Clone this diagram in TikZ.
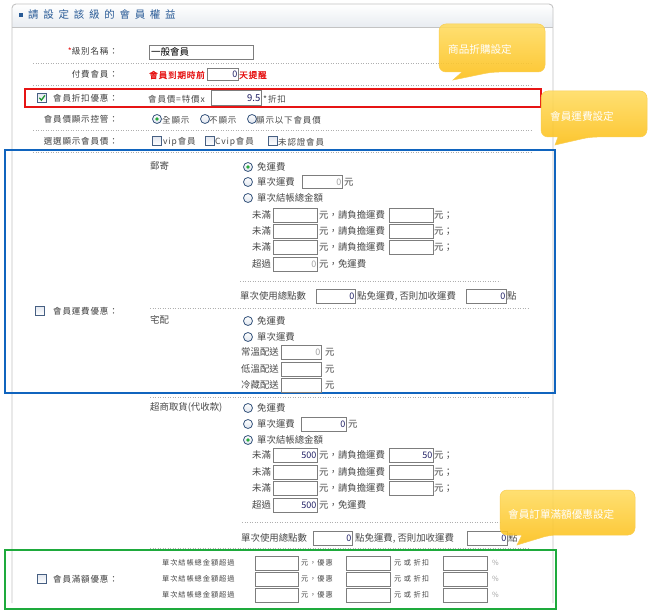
\documentclass[tikz,border=0pt]{standalone}
\usepackage{fontspec}
\setmainfont{Noto Sans CJK TC}
\newfontfamily\cjk{Noto Sans CJK TC}
\newfontfamily\cjksp[LetterSpace=10]{Noto Sans CJK TC}
\newfontfamily\cjkred[LetterSpace=8,FakeBold=1.2]{Noto Sans CJK TC}
\newfontfamily\cjkttl[LetterSpace=45]{Noto Sans CJK TC}
\newfontfamily\cjkbt[LetterSpace=13]{Noto Sans CJK TC}
\definecolor{txt}{RGB}{72,72,72}
\definecolor{lbl}{RGB}{60,60,60}
\definecolor{valc}{RGB}{30,30,100}
\definecolor{dis}{RGB}{160,160,160}
\definecolor{inpc}{RGB}{125,125,125}
\definecolor{rdoc}{RGB}{55,85,125}
\definecolor{cbxc}{RGB}{70,95,130}
\definecolor{dotc}{RGB}{175,175,175}
\definecolor{panelc}{RGB}{195,195,195}
\definecolor{ttlc}{RGB}{40,90,150}
\definecolor{selgreen}{RGB}{40,170,60}
\definecolor{chkgreen}{RGB}{30,150,50}
\definecolor{redc}{RGB}{230,20,20}
\definecolor{bluebox}{RGB}{16,100,190}
\definecolor{greenbox}{RGB}{30,170,60}
\definecolor{hdrbot}{RGB}{232,236,241}
\definecolor{rdobot}{RGB}{222,228,238}
\definecolor{cbxtop}{RGB}{228,232,240}
\definecolor{calltop}{RGB}{255,220,95}
\definecolor{callbot}{RGB}{252,190,20}
\definecolor{calledge}{RGB}{250,205,80}
\tikzset{
 tx/.style={font=\cjk\fontsize{9.4}{11}\selectfont, text=txt, inner sep=0pt, anchor=west},
 lb/.style={font=\cjksp\fontsize{8.5}{10}\selectfont, text=lbl, inner sep=0pt, anchor=east},
 sp/.style={font=\cjksp\fontsize{8.5}{10}\selectfont, text=txt, inner sep=0pt, anchor=west},
 rd/.style={font=\cjkred\fontsize{8.7}{10}\selectfont, text=redc, inner sep=0pt, anchor=west},
 bt/.style={font=\cjkbt\fontsize{7.2}{9}\selectfont, text=txt, inner sep=0pt, anchor=west},
 ttl/.style={font=\cjkttl\fontsize{10.5}{12}\selectfont, text=ttlc, inner sep=0pt, anchor=west},
 val/.style={font=\cjk\fontsize{9}{10}\selectfont, text=valc, inner sep=0pt},
 inp/.style={draw=inpc, line width=0.8pt, fill=white, inner sep=0pt},
 rdo/.style={circle, draw=rdoc, line width=0.8pt, minimum size=9pt, inner sep=0pt, top color=white, bottom color=rdobot},
 cbx/.style={rectangle, draw=cbxc, line width=0.8pt, minimum size=9pt, inner sep=0pt, top color=cbxtop, bottom color=white},
 dline/.style={draw=dotc, line width=0.9pt, dash pattern=on 1.2pt off 1.3pt},
 panel/.style={draw=panelc, line width=0.9pt},
 callout/.style={top color=calltop, bottom color=callbot, fill opacity=0.88, draw=calledge, line width=0.5pt, rounded corners=7pt},
 ctx/.style={font=\cjk\fontsize{10.6}{12}\selectfont, text=white, inner sep=0pt, anchor=west},
}
\newcommand\ibx[6]{\node[inp, anchor=north west, minimum width=#4pt, minimum height=#5pt] (#1) at (#2,#3) {};\node[val, anchor=east] (#1v) at ([xshift=-1.3pt]#1.east) {#6};}
\newcommand\rdb[4]{\node[rdo] (#1) at (#2,#3) {};\ifnum#4=1 \fill[selgreen] (#1.center) circle (1.9pt);\fi}
\newcommand\cbb[4]{\node[cbx] (#1) at (#2,#3) {};\ifnum#4=1 \draw[chkgreen, line width=1.3pt] ([shift={(-2.6pt,0.2pt)}]#1.center) -- ([shift={(-0.6pt,-2.2pt)}]#1.center) -- ([shift={(2.9pt,2.6pt)}]#1.center);\fi}
\begin{document}
\begin{tikzpicture}[x=1pt,y=-1pt]
\useasboundingbox[fill=white] (0,0) rectangle (648,615);
% panel
\shade[top color=white, bottom color=hdrbot] (12,27) {[rounded corners=4pt] -- (12,4) -- (553,4)} -- (553,27) -- cycle;
\draw[panel] (12,603) -- (12,27) {[rounded corners=4pt] -- (12,4) -- (553,4)} -- (553,27) -- (553,603);
\draw[panel] (12,27) -- (553,27);
\node[fill=ttlc, minimum size=4pt, inner sep=0pt] (sq) at (21,15.5) {};
\node[ttl] (title) at (28,15) {請設定該級的會員權益};
% dotted separators
\draw[dline] (33,63) -- (532,63);
\draw[dline] (33,85) -- (532,85);
\draw[dline] (33,130) -- (532,130);
\draw[dline] (33,152) -- (532,152);
% row 1
\node[lb] (l1) at (118,51) {\textcolor{redc}{*}級別名稱：};
\node[inp, anchor=north west, minimum width=104pt, minimum height=14pt] (name) at (149,45) {};
\node[font=\cjk\fontsize{9.5}{11}\selectfont, text=black, inner sep=0pt, anchor=west] (namev) at (151,52) {一般會員};
% row 2
\node[lb] (l2) at (118,74) {付費會員：};
\node[rd] (r2a) at (149,75) {會員到期時前};
\ibx{r2b}{207}{68}{31}{12}{0}
\node[rd] (r2c) at (239,75) {天提醒};
% row 3
\draw[redc, line width=2pt] (25,89) rectangle (541,107);
\cbb{c3}{42}{98}{1}
\node[lb] (l3) at (118,98) {會員折扣優惠：};
\node[sp] (r3a) at (148,99) {會員價=特價x};
\ibx{r3b}{211}{90}{50}{15}{\fontsize{9.5}{11}\selectfont 9.5}
\node[sp] (r3c) at (263,99) {*折扣};
% row 4
\node[lb] (l4) at (118,119) {會員價顯示控管：};
\rdb{o41}{157}{119}{1}
\node[sp] (t41) at (162,120) {全顯示};
\rdb{o42}{205}{119}{0}
\node[sp] (t42) at (209,120) {不顯示};
\rdb{o43}{252}{119}{0}
\node[sp] (t43) at (256,120) {顯示以下會員價};
% row 5
\node[lb] (l5) at (118,141) {選選顯示會員價：};
\cbb{c51}{157}{141}{0}
\node[sp] (t51) at (163,142) {vip會員};
\cbb{c52}{210}{141}{0}
\node[sp] (t52) at (215,142) {Cvip會員};
\cbb{c53}{273}{141}{0}
\node[sp] (t53) at (278,142) {未認證會員};
% ===== shipping (blue box)
\draw[bluebox, line width=2pt] (5,150) rectangle (555,393);
\cbb{c6}{40}{311}{0}
\node[lb] (l6) at (118,311) {會員運費優惠：};
\node[tx] (mail) at (150,166) {郵寄};
\rdb{m1}{248}{167}{1}
\node[tx] (m1t) at (257,167) {免運費};
\rdb{m2}{248}{182}{0}
\node[tx] (m2t) at (257,182) {單次運費};
\ibx{m2b}{302}{175}{40}{13}{\textcolor{dis}{0}}
\node[tx] (m2y) at (344,182) {元};
\rdb{m3}{248}{198}{0}
\node[tx] (m3t) at (257,198) {單次結帳總金額};
\node[tx] (ma1) at (252,215) {未滿};
\ibx{mb1}{273}{208}{44}{14}{}
\node[tx] (mc1) at (319,215) {元，請負擔運費};
\ibx{md1}{389}{208}{44}{14}{}
\node[tx] (me1) at (434,215) {元；};
\node[tx] (ma2) at (252,231) {未滿};
\ibx{mb2}{273}{224}{44}{14}{}
\node[tx] (mc2) at (319,231) {元，請負擔運費};
\ibx{md2}{389}{224}{44}{14}{}
\node[tx] (me2) at (434,231) {元；};
\node[tx] (ma3) at (252,247) {未滿};
\ibx{mb3}{273}{240}{44}{14}{}
\node[tx] (mc3) at (319,247) {元，請負擔運費};
\ibx{md3}{389}{240}{44}{14}{}
\node[tx] (me3) at (434,247) {元；};
\node[tx] (ma4) at (252,264) {超過};
\ibx{mb4}{273}{257}{44}{14}{\textcolor{dis}{0}}
\node[tx] (mc4) at (319,264) {元，免運費};
\draw[dline] (240,281) -- (500,281);
\node[tx] (mp1) at (240,296) {單次使用總點數};
\ibx{mp2}{316}{289}{39}{14}{0}
\node[tx] (mp3) at (357,296) {點免運費, 否則加收運費};
\ibx{mp4}{466}{289}{40}{14}{0}
\node[tx] (mp5) at (507,296) {點};
\draw[dline] (150,308) -- (528,308);
\node[tx] (home) at (150,320) {宅配};
\rdb{h1}{248}{321}{0}
\node[tx] (h1t) at (257,321) {免運費};
\rdb{h2}{248}{337}{0}
\node[tx] (h2t) at (257,337) {單次運費};
\node[tx] (h3a) at (241,352) {常溫配送};
\ibx{h3b}{281}{345}{40}{14}{\textcolor{dis}{0}}
\node[tx] (h3c) at (325,352) {元};
\node[tx] (h4a) at (241,369) {低溫配送};
\ibx{h4b}{281}{362}{40}{14}{}
\node[tx] (h4c) at (325,369) {元};
\node[tx] (h5a) at (241,385) {冷藏配送};
\ibx{h5b}{281}{378}{40}{14}{}
\node[tx] (h5c) at (325,385) {元};
\draw[dline] (150,397) -- (528,397);
% ===== store pickup
\node[tx] (store) at (150,407) {超商取貨(代收款)};
\rdb{s1}{248}{408}{0}
\node[tx] (s1t) at (257,408) {免運費};
\rdb{s2}{248}{424}{0}
\node[tx] (s2t) at (257,424) {單次運費};
\ibx{s2b}{301}{417}{45}{14}{0}
\node[tx] (s2y) at (348,424) {元};
\rdb{s3}{248}{440}{1}
\node[tx] (s3t) at (257,440) {單次結帳總金額};
\node[tx] (sa1) at (252,455) {未滿};
\ibx{sb1}{273}{448}{44}{14}{500}
\node[tx] (sc1) at (319,455) {元，請負擔運費};
\ibx{sd1}{389}{448}{44}{14}{50}
\node[tx] (se1) at (434,455) {元；};
\node[tx] (sa2) at (252,472) {未滿};
\ibx{sb2}{273}{465}{44}{14}{}
\node[tx] (sc2) at (319,472) {元，請負擔運費};
\ibx{sd2}{389}{465}{44}{14}{}
\node[tx] (se2) at (434,472) {元；};
\node[tx] (sa3) at (252,488) {未滿};
\ibx{sb3}{273}{481}{44}{14}{}
\node[tx] (sc3) at (319,488) {元，請負擔運費};
\ibx{sd3}{389}{481}{44}{14}{}
\node[tx] (se3) at (434,488) {元；};
\node[tx] (sa4) at (252,505) {超過};
\ibx{sb4}{273}{498}{44}{14}{500}
\node[tx] (sc4) at (319,505) {元，免運費};
\draw[dline] (242,522) -- (500,522);
\node[tx] (sp1) at (241,538) {單次使用總點數};
\ibx{sp2}{313}{531}{39}{14}{0}
\node[tx] (sp3) at (355,538) {點免運費, 否則加收運費};
\ibx{sp4}{467}{531}{40}{14}{0}
\node[tx] (sp5) at (508,538) {點};
\draw[dline] (150,548) -- (528,548);
% ===== full amount (green box)
\draw[greenbox, line width=2pt] (5,550) rectangle (556,609);
\cbb{c7}{42}{579}{0}
\node[lb] (l7) at (118,579) {會員滿額優惠：};
\node[bt] (g1a) at (162,563) {單次結帳總金額超過};
\ibx{g1b}{255}{556}{43}{14}{}
\node[bt] (g1c) at (301,563) {元，優惠};
\ibx{g1d}{346}{556}{44}{14}{}
\node[bt] (g1e) at (394,563) {元 或 折扣};
\ibx{g1f}{443}{556}{44}{14}{}
\node[bt, text=dis] (g1g) at (492,563) {\%};
\node[bt] (g2a) at (162,579) {單次結帳總金額超過};
\ibx{g2b}{255}{572}{43}{14}{}
\node[bt] (g2c) at (301,579) {元，優惠};
\ibx{g2d}{346}{572}{44}{14}{}
\node[bt] (g2e) at (394,579) {元 或 折扣};
\ibx{g2f}{443}{572}{44}{14}{}
\node[bt, text=dis] (g2g) at (492,579) {\%};
\node[bt] (g3a) at (162,595) {單次結帳總金額超過};
\ibx{g3b}{255}{588}{43}{14}{}
\node[bt] (g3c) at (301,595) {元，優惠};
\ibx{g3d}{346}{588}{44}{14}{}
\node[bt] (g3e) at (394,595) {元 或 折扣};
\ibx{g3f}{443}{588}{44}{14}{}
\node[bt, text=dis] (g3g) at (492,595) {\%};
% ===== callouts
\shadedraw[callout] (439,24) -- (545,24) -- (545,72) -- (492,72) [sharp corners] -- (453,80) -- (462,72) [rounded corners=7pt] -- (439,72) -- cycle;
\node[ctx] (co1) at (448,49) {商品折購設定};
\shadedraw[callout] (541,91) -- (647,91) -- (647,137) -- (590,137) [sharp corners] -- (555,145) -- (558,137) [rounded corners=7pt] -- (541,137) -- cycle;
\node[ctx] (co2) at (550,116) {會員運費設定};
\shadedraw[callout] (500,490) -- (635,490) -- (635,535) -- (550,535) [sharp corners] -- (517,545) -- (522,535) [rounded corners=7pt] -- (500,535) -- cycle;
\node[ctx] (co3) at (508,514) {會員訂單滿額優惠設定};
\end{tikzpicture}
\end{document}
